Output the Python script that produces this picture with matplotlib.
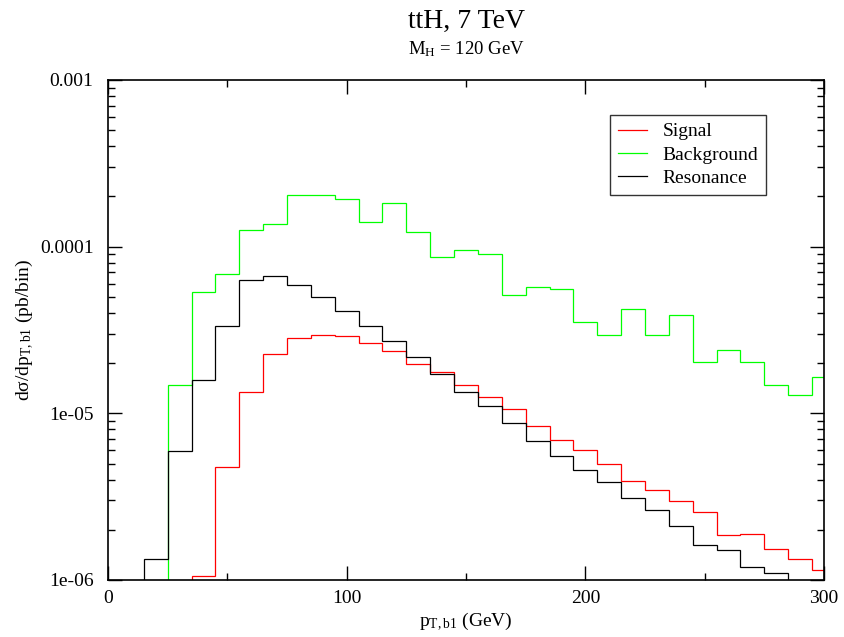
import matplotlib
matplotlib.use("Agg")
import matplotlib.pyplot as plt
from matplotlib.ticker import FixedLocator, FixedFormatter, LogLocator, NullFormatter, MultipleLocator

plt.rcParams["font.family"] = ["Liberation Serif", "DejaVu Serif"]
plt.rcParams["mathtext.fontset"] = "custom"
plt.rcParams["mathtext.rm"] = "Liberation Serif"
plt.rcParams["mathtext.it"] = "Liberation Serif:italic"

# bin edges in GeV (10 GeV bins)
edges = [15, 25, 35, 45, 55, 65, 75, 85, 95, 105, 115, 125, 135, 145, 155,
         165, 175, 185, 195, 205, 215, 225, 235, 245, 255, 265, 275, 285, 295, 305]

# signal: bins from 35 GeV up
signal = [1.06e-6, 4.77e-6, 1.34e-5, 2.26e-5, 2.84e-5, 2.96e-5, 2.93e-5, 2.64e-5,
          2.38e-5, 1.99e-5, 1.76e-5, 1.48e-5, 1.26e-5, 1.06e-5, 8.36e-6, 6.92e-6,
          6.06e-6, 5.0e-6, 3.92e-6, 3.47e-6, 2.97e-6, 2.55e-6, 1.85e-6, 1.88e-6,
          1.53e-6, 1.34e-6, 1.15e-6]
signal_start = 35

# background: bins from 25 GeV up
background = [1.47e-5, 5.35e-5, 6.83e-5, 1.26e-4, 1.37e-4, 2.03e-4, 2.03e-4, 1.92e-4,
              1.41e-4, 1.83e-4, 1.22e-4, 8.67e-5, 9.6e-5, 9.04e-5, 5.16e-5, 5.71e-5,
              5.56e-5, 3.51e-5, 2.96e-5, 4.24e-5, 2.96e-5, 3.88e-5, 2.03e-5, 2.39e-5,
              2.03e-5, 1.48e-5, 1.29e-5, 1.65e-5]
background_start = 25

# resonance: bins from 15 GeV up
resonance = [1.34e-6, 5.98e-6, 1.59e-5, 3.36e-5, 6.31e-5, 6.64e-5, 5.91e-5, 5.02e-5,
             4.10e-5, 3.36e-5, 2.71e-5, 2.19e-5, 1.73e-5, 1.34e-5, 1.11e-5, 8.79e-6,
             6.86e-6, 5.58e-6, 4.56e-6, 3.86e-6, 3.10e-6, 2.64e-6, 2.11e-6, 1.63e-6,
             1.51e-6, 1.20e-6, 1.10e-6]
resonance_start = 15

y_ticks = [1e-6, 1e-5, 1e-4, 1e-3]
y_tick_labels = ["1e-06", "1e-05", "0.0001", "0.001"]


def series_edges(start, vals):
    i = edges.index(start)
    return edges[i:i + len(vals) + 1]


fig = plt.figure(figsize=(8.44, 6.37), dpi=100)
ax = fig.add_axes([108 / 844, 1 - 580 / 637, 716 / 844, 500 / 637])
ax.set_yscale("log")

lw = 0.9
ax.stairs(signal, series_edges(signal_start, signal), baseline=1e-8,
          color="#ff0000", lw=lw, label="Signal")
ax.stairs(background, series_edges(background_start, background), baseline=1e-8,
          color="#00ff00", lw=lw, label="Background")
ax.stairs(resonance, series_edges(resonance_start, resonance), baseline=1e-8,
          color="black", lw=lw, label="Resonance")

ax.set_xlim(0, 300)
ax.set_ylim(1e-6, 1e-3)

ax.xaxis.set_major_locator(MultipleLocator(100))
ax.xaxis.set_minor_locator(MultipleLocator(50))
ax.yaxis.set_major_locator(FixedLocator(y_ticks))
ax.yaxis.set_major_formatter(FixedFormatter(y_tick_labels))
ax.yaxis.set_minor_locator(LogLocator(base=10, subs=range(2, 10)))
ax.yaxis.set_minor_formatter(NullFormatter())

ax.tick_params(which="both", direction="in", top=True, right=True, labelsize=14, width=1)
ax.tick_params(which="major", length=10)
ax.tick_params(which="minor", length=5)
ax.tick_params(axis="x", which="major", pad=7)
ax.tick_params(axis="y", which="major", pad=10.5)
for s in ax.spines.values():
    s.set_linewidth(1.2)

ax.set_xlabel(r"p$_{\mathrm{T,b1}}$ (GeV)", fontsize=14, labelpad=3)
ax.set_ylabel(r"dσ/dp$_{\mathrm{T,b1}}$ (pb/bin)", fontsize=14, labelpad=3)

fig.text(466 / 844, 1 - 21 / 637, "ttH, 7 TeV", ha="center", va="center", fontsize=20)
fig.text(466 / 844, 1 - 49 / 637, r"M$_{\mathrm{H}}$ = 120 GeV", ha="center", va="center", fontsize=13.5)

leg = ax.legend(loc="upper left", bbox_to_anchor=(0.701, 0.93), fontsize=14,
                frameon=True, fancybox=False, handlelength=1.5, handletextpad=0.8,
                labelspacing=0.3, borderpad=0.4, borderaxespad=0)
leg.get_frame().set_edgecolor("black")
leg.get_frame().set_linewidth(1.0)

fig.savefig("out.png", dpi=100)
plt.close(fig)
